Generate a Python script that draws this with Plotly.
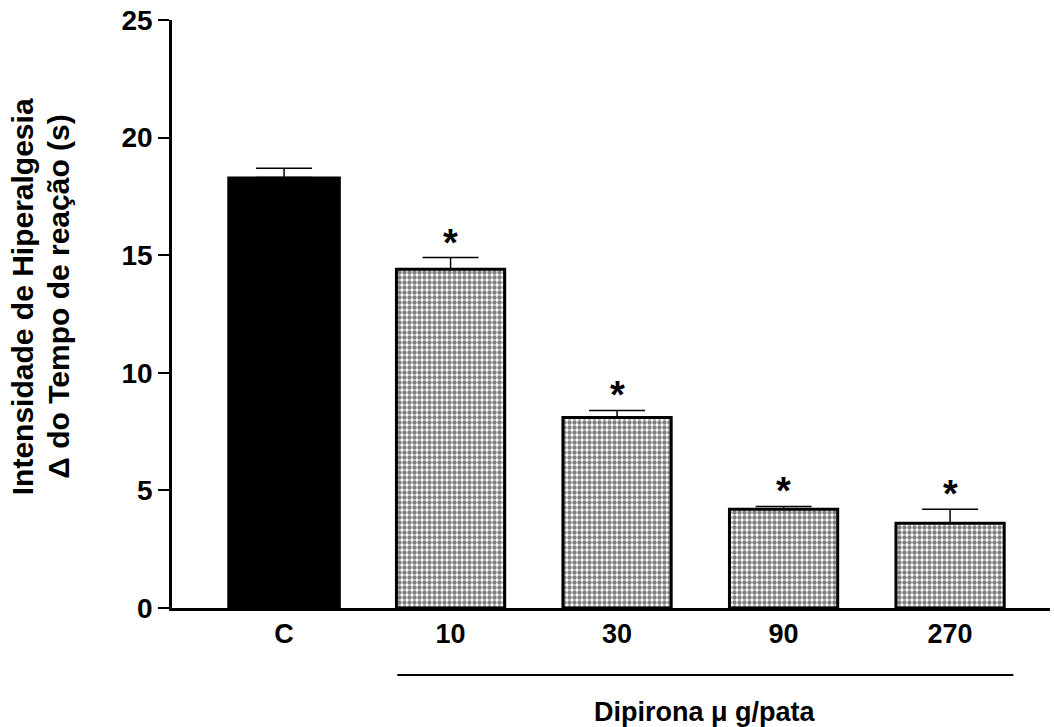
import plotly.graph_objects as go

# Groups and measured hyperalgesia intensity (mean and SEM)
categories = ["C", "10", "30", "90", "270"]
means = [18.3, 14.4, 8.1, 4.2, 3.6]
sems = [0.4, 0.5, 0.3, 0.12, 0.6]
significant = [False, True, True, True, True]
y_ticks = [0, 5, 10, 15, 20, 25]

FONT = "Liberation Sans, Arial, sans-serif"
xpos = list(range(len(categories)))

fig = go.Figure()

# control group: solid black bar
fig.add_trace(go.Bar(
    x=xpos[:1], y=means[:1], width=0.67,
    marker=dict(color="black", line=dict(color="black", width=2)),
    error_y=dict(type="data", array=sems[:1], arrayminus=[0], symmetric=False,
                 color="black", thickness=1.5, width=28),
    showlegend=False,
))

# dipyrone doses: dotted fill
fig.add_trace(go.Bar(
    x=xpos[1:], y=means[1:], width=0.65,
    marker=dict(color="white",
                line=dict(color="black", width=3),
                pattern=dict(shape=".", fgcolor="black", bgcolor="white",
                             size=5, solidity=0.6, fillmode="overlay")),
    error_y=dict(type="data", array=sems[1:], arrayminus=[0] * 4, symmetric=False,
                 color="black", thickness=1.5, width=28),
    showlegend=False,
))

# significance asterisks above the error bars
for x, m, s, sig in zip(xpos, means, sems, significant):
    if sig:
        fig.add_annotation(x=x, y=m + s, text="<b>*</b>", showarrow=False,
                           xanchor="center", yanchor="bottom", yshift=-8,
                           font=dict(family=FONT, size=38, color="black"))

# line grouping the dipyrone doses
fig.add_shape(type="line", xref="x", yref="paper",
              x0=0.68, x1=4.38, y0=-0.114, y1=-0.114,
              line=dict(color="black", width=2))

fig.add_annotation(x=2.53, y=-0.177, xref="x", yref="paper",
                   xanchor="center", yanchor="middle",
                   text="<b>Dipirona \u03bc g/pata</b>", showarrow=False,
                   font=dict(family=FONT, size=27, color="black"))

# y-axis title, two lines
fig.add_annotation(x=-0.171, y=0.53, xref="paper", yref="paper",
                   xanchor="center", yanchor="middle",
                   text="<b>Intensidade de Hiperalgesia</b>", showarrow=False,
                   textangle=-90, font=dict(family=FONT, size=30, color="black"))
fig.add_annotation(x=-0.1295, y=0.53, xref="paper", yref="paper",
                   xanchor="center", yanchor="middle",
                   text="<b>\u0394 do Tempo de reação (s)</b>", showarrow=False,
                   textangle=-90, font=dict(family=FONT, size=30, color="black"))

fig.update_layout(
    width=1054, height=727,
    margin=dict(l=172, r=4, t=20, b=119),
    paper_bgcolor="white", plot_bgcolor="white",
    xaxis=dict(
        range=[-0.673, 4.6], tickmode="array", tickvals=xpos, ticktext=categories,
        showline=True, linecolor="black", linewidth=3, ticks="",
        showgrid=False, zeroline=False,
        tickfont=dict(family=FONT, size=27, color="black", weight="bold"),
    ),
    yaxis=dict(
        range=[0, 25], tickmode="array", tickvals=y_ticks,
        showline=True, linecolor="black", linewidth=2.5,
        ticks="outside", ticklen=11, tickwidth=2, tickcolor="black",
        showgrid=False, zeroline=False,
        tickfont=dict(family=FONT, size=28, color="black", weight="bold"),
    ),
)

fig.write_html("out.html")
